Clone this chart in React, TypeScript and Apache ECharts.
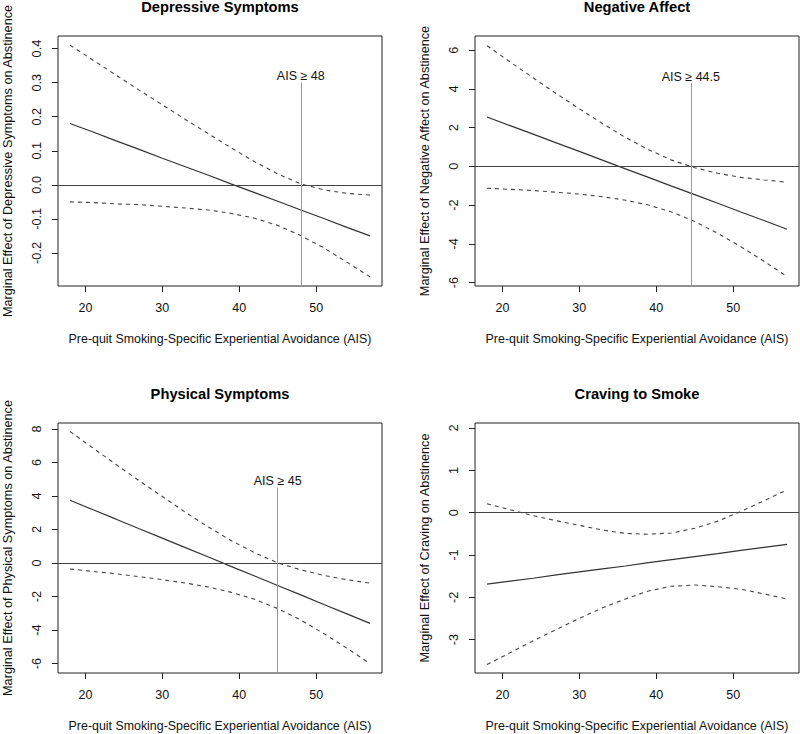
import React, { useEffect, useRef } from "react";
import * as echarts from "echarts";

const ais = [18, 21, 24, 27, 30, 33, 36, 39, 42, 45, 48, 51, 54, 57];

const depEffect = [0.18, 0.155, 0.129, 0.104, 0.078, 0.053, 0.028, 0.002, -0.023, -0.048, -0.074, -0.099, -0.125, -0.15];
const depUpper = [0.41, 0.366, 0.322, 0.278, 0.235, 0.192, 0.15, 0.108, 0.068, 0.032, 0.003, -0.015, -0.025, -0.03];
const depLower = [-0.05, -0.052, -0.056, -0.058, -0.063, -0.068, -0.074, -0.084, -0.098, -0.119, -0.149, -0.185, -0.227, -0.27];

const naEffect = [2.55, 2.1, 1.66, 1.21, 0.77, 0.32, -0.13, -0.57, -1.02, -1.46, -1.91, -2.36, -2.8, -3.25];
const naUpper = [6.23, 5.39, 4.57, 3.76, 2.97, 2.21, 1.49, 0.86, 0.32, -0.07, -0.36, -0.57, -0.7, -0.82];
const naLower = [-1.13, -1.19, -1.25, -1.34, -1.43, -1.57, -1.75, -2.0, -2.36, -2.85, -3.46, -4.15, -4.9, -5.69];

const physEffect = [3.75, 3.18, 2.62, 2.05, 1.49, 0.92, 0.36, -0.21, -0.77, -1.34, -1.9, -2.47, -3.03, -3.6];
const physUpper = [7.85, 6.86, 5.88, 4.91, 3.97, 3.03, 2.15, 1.33, 0.62, 0.01, -0.4, -0.74, -0.99, -1.2];
const physLower = [-0.35, -0.5, -0.64, -0.81, -0.99, -1.19, -1.43, -1.75, -2.16, -2.71, -3.4, -4.21, -5.08, -6.0];

const cravEffect = [-1.69, -1.62, -1.55, -1.47, -1.4, -1.33, -1.26, -1.18, -1.11, -1.04, -0.97, -0.89, -0.82, -0.75];
const cravUpper = [0.21, 0.07, -0.07, -0.19, -0.3, -0.41, -0.49, -0.51, -0.48, -0.37, -0.2, 0.03, 0.28, 0.54];
const cravLower = [-3.59, -3.31, -3.03, -2.76, -2.5, -2.25, -2.04, -1.85, -1.74, -1.71, -1.75, -1.81, -1.92, -2.04];

// tick labels
const xTicks = [20, 30, 40, 50];
const depTicks = [-0.2, -0.1, 0, 0.1, 0.2, 0.3, 0.4];
const naTicks = [-6, -4, -2, 0, 2, 4, 6];
const physTicks = [-6, -4, -2, 0, 2, 4, 6, 8];
const cravTicks = [-3, -2, -1, 0, 1, 2];

// axis ranges
const xRange = [16.44, 58.56];
const depRange = [-0.297, 0.437];
const naRange = [-6.18, 6.73];
const physRange = [-6.56, 8.36];
const cravRange = [-3.79, 2.12];

// thresholds (vertical reference lines)
const depThreshold = { x: 48, top: 0.3, label: "AIS ≥ 48" };
const naThreshold = { x: 44.5, top: 4.3, label: "AIS ≥ 44.5" };
const physThreshold = { x: 45, top: 4.5, label: "AIS ≥ 45" };

const titles = ["Depressive Symptoms", "Negative Affect", "Physical Symptoms", "Craving to Smoke"];
const yTitles = [
  "Marginal Effect of Depressive Symptoms on Abstinence",
  "Marginal Effect of Negative Affect on Abstinence",
  "Marginal Effect of Physical Symptoms on Abstinence",
  "Marginal Effect of Craving on Abstinence",
];
const xTitle = "Pre-quit Smoking-Specific Experiential Avoidance (AIS)";

const FONT = "'Liberation Sans', Arial, Helvetica, sans-serif";

export default function App() {
  const ref = useRef<HTMLDivElement>(null);

  useEffect(() => {
    if (!ref.current) return;
    const chart = echarts.init(ref.current, undefined, { renderer: "svg" });

    const panels = [
      { est: depEffect, up: depUpper, lo: depLower, range: depRange, ticks: depTicks, dec: 1, thr: depThreshold },
      { est: naEffect, up: naUpper, lo: naLower, range: naRange, ticks: naTicks, dec: 0, thr: naThreshold },
      { est: physEffect, up: physUpper, lo: physLower, range: physRange, ticks: physTicks, dec: 0, thr: physThreshold },
      { est: cravEffect, up: cravUpper, lo: cravLower, range: cravRange, ticks: cravTicks, dec: 0, thr: null as any },
    ];

    const lefts = [58, 475, 58, 475];
    const tops = [36, 36, 423, 423];
    const W = 324;
    const H = 250;

    const grid: any[] = [];
    const xAxis: any[] = [];
    const yAxis: any[] = [];
    const series: any[] = [];
    const graphic: any[] = [];

    panels.forEach((p, i) => {
      grid.push({
        left: lefts[i],
        top: tops[i],
        width: W,
        height: H,
        show: true,
        borderColor: "#222",
        borderWidth: 1,
        backgroundColor: "transparent",
        containLabel: false,
      });
      xAxis.push({
        type: "value",
        gridIndex: i,
        position: "bottom",
        min: xRange[0],
        max: xRange[1],
        axisLine: { show: false, onZero: false },
        splitLine: { show: false },
        axisTick: { show: true, length: 6, lineStyle: { color: "#222" }, customValues: xTicks },
        axisLabel: {
          show: true,
          customValues: xTicks,
          margin: 15,
          fontSize: 12.5,
          fontFamily: FONT,
          color: "#111",
        },
      });
      yAxis.push({
        type: "value",
        gridIndex: i,
        position: "left",
        min: p.range[0],
        max: p.range[1],
        axisLine: { show: false, onZero: false },
        splitLine: { show: false },
        axisTick: { show: true, length: 6, lineStyle: { color: "#222" }, customValues: p.ticks },
        axisLabel: {
          show: true,
          customValues: p.ticks,
          rotate: 90,
          margin: 15,
          fontSize: 12.7,
          fontFamily: FONT,
          color: "#111",
          formatter: (v: number) => v.toFixed(p.dec),
        },
      });

      const markData: any[] = [
        { yAxis: 0, lineStyle: { color: "#444", width: 1.2, type: "solid" }, label: { show: false } },
      ];
      if (p.thr) {
        markData.push([
          {
            coord: [p.thr.x, p.range[0]],
            lineStyle: { color: "#999", width: 1, type: "solid" },
            label: {
              show: true,
              position: "end",
              formatter: p.thr.label,
              distance: 0,
              fontSize: 12.5,
              fontFamily: FONT,
              color: "#111",
            },
          },
          { coord: [p.thr.x, p.thr.top] },
        ]);
      }

      series.push({
        type: "line",
        xAxisIndex: i,
        yAxisIndex: i,
        data: ais.map((x, k) => [x, p.est[k]]),
        showSymbol: false,
        symbol: "none",
        lineStyle: { color: "#333", width: 1.2, type: "solid" },
        z: 3,
        markLine: {
          silent: true,
          symbol: ["none", "none"],
          animation: false,
          data: markData,
        },
      });
      series.push({
        type: "line",
        xAxisIndex: i,
        yAxisIndex: i,
        data: ais.map((x, k) => [x, p.up[k]]),
        showSymbol: false,
        symbol: "none",
        lineStyle: { color: "#444", width: 1.1, type: [4, 4] },
        z: 2,
      });
      series.push({
        type: "line",
        xAxisIndex: i,
        yAxisIndex: i,
        data: ais.map((x, k) => [x, p.lo[k]]),
        showSymbol: false,
        symbol: "none",
        lineStyle: { color: "#444", width: 1.1, type: [4, 4] },
        z: 2,
      });

      const cx = lefts[i] + W / 2;
      graphic.push({
        type: "text",
        x: cx,
        y: tops[i] - 29.5,
        style: {
          text: titles[i],
          fontSize: 14.7,
          fontWeight: "bold",
          fontFamily: FONT,
          fill: "#000",
          align: "center",
          verticalAlign: "middle",
        },
      });
      graphic.push({
        type: "text",
        x: cx,
        y: tops[i] + H + 53,
        style: {
          text: xTitle,
          fontSize: 12.4,
          fontFamily: FONT,
          fill: "#111",
          align: "center",
          verticalAlign: "middle",
        },
      });
      graphic.push({
        type: "text",
        x: lefts[i] - 50.5,
        y: tops[i] + H / 2,
        rotation: Math.PI / 2,
        style: {
          text: yTitles[i],
          fontSize: 12.7,
          fontFamily: FONT,
          fill: "#111",
          align: "center",
          verticalAlign: "middle",
        },
      });
    });

    chart.setOption({
      animation: false,
      backgroundColor: "#fff",
      grid,
      xAxis,
      yAxis,
      series,
      graphic,
    });

    return () => chart.dispose();
  }, []);

  return (
    <div
      ref={ref}
      style={{ position: "fixed", left: 0, top: 0, width: 800, height: 734, background: "#fff" }}
    />
  );
}
